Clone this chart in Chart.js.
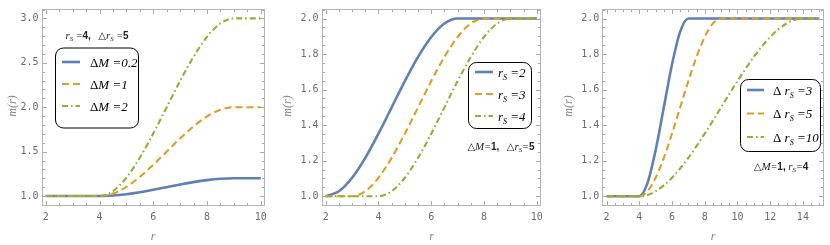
<!DOCTYPE html>
<html>
<head>
<meta charset="utf-8">
<script src="https://cdn.jsdelivr.net/npm/chart.js@4.4.1/dist/chart.umd.min.js"></script>
<style>
  body { margin: 0; background: #fff; width: 830px; height: 245px; overflow: hidden; position: relative; }
  canvas { position: absolute; top: 0; }
</style>
</head>
<body>
<canvas id="c1" width="272" height="245" style="left:0px"></canvas>
<canvas id="c2" width="272" height="245" style="left:277px"></canvas>
<canvas id="c3" width="275" height="245" style="left:555px"></canvas>
<script>
// ---- values ----
const rAB = [2, 2.5, 3, 3.5, 4, 4.5, 5, 5.5, 6, 6.5, 7, 7.5, 8, 8.5, 9, 9.5, 10];
const rC  = [2, 2.5, 3, 3.5, 4, 4.5, 5, 5.5, 6, 6.5, 7, 7.5, 8, 8.5, 9, 9.5, 10,
             10.5, 11, 11.5, 12, 12.5, 13, 13.5, 14, 14.5, 15];

// panel 1 : r_s = 4, Δr_s = 5
const mDM02 = [1, 1, 1, 1, 1, 1.006, 1.021, 1.043, 1.070, 1.100, 1.130, 1.157, 1.179, 1.194, 1.2, 1.2, 1.2];
const mDM1  = [1, 1, 1, 1, 1, 1.028, 1.104, 1.216, 1.352, 1.500, 1.648, 1.784, 1.896, 1.972, 2, 2, 2];
const mDM2  = [1, 1, 1, 1, 1, 1.056, 1.208, 1.432, 1.704, 2.000, 2.296, 2.568, 2.792, 2.944, 3, 3, 3];

// panel 2 : ΔM = 1, Δr_s = 5
const mRs2 = [1, 1.028, 1.104, 1.216, 1.352, 1.5, 1.648, 1.784, 1.896, 1.972, 2, 2, 2, 2, 2, 2, 2];
const mRs3 = [1, 1, 1, 1.028, 1.104, 1.216, 1.352, 1.5, 1.648, 1.784, 1.896, 1.972, 2, 2, 2, 2, 2];
const mRs4 = [1, 1, 1, 1, 1, 1.028, 1.104, 1.216, 1.352, 1.5, 1.648, 1.784, 1.896, 1.972, 2, 2, 2];

// panel 3 : ΔM = 1, r_s = 4
const mDrs3  = [1, 1, 1, 1, 1, 1.074, 1.259, 1.5, 1.741, 1.926, 2, 2, 2, 2, 2, 2, 2,
                2, 2, 2, 2, 2, 2, 2, 2, 2, 2];
const mDrs5  = [1, 1, 1, 1, 1, 1.028, 1.104, 1.216, 1.352, 1.5, 1.648, 1.784, 1.896, 1.972, 2, 2, 2,
                2, 2, 2, 2, 2, 2, 2, 2, 2, 2];
const mDrs10 = [1, 1, 1, 1, 1, 1.007, 1.028, 1.061, 1.104, 1.156, 1.216, 1.282, 1.352, 1.425, 1.5, 1.575, 1.648,
                1.718, 1.784, 1.844, 1.896, 1.939, 1.972, 1.993, 2, 2, 2];

const xTicksAB = [2, 4, 6, 8, 10];
const xTicksC  = [2, 4, 6, 8, 10, 12, 14];
const yTicksA  = [1.0, 1.5, 2.0, 2.5, 3.0];
const yTicksBC = [1.0, 1.2, 1.4, 1.6, 1.8, 2.0];

const dMLabels  = ['0.2', '1', '2'];
const rsLabels  = ['2', '3', '4'];
const drsLabels = ['3', '5', '10'];

// ---- styles ----
const BLUE = '#5e81b5', ORANGE = '#e19c24', GREEN = '#8fb032';
const SERIF = '"Liberation Serif", "DejaVu Serif", serif';
const MONO  = '"DejaVu Sans Mono", monospace';
const STYLES = [
  { borderColor: BLUE,   borderWidth: 2.6, borderDash: [],              order: 2 },
  { borderColor: ORANGE, borderWidth: 2.1, borderDash: [7, 4],          order: 1 },
  { borderColor: GREEN,  borderWidth: 2.1, borderDash: [6, 3, 1.6, 3],  order: 0 },
];

const it  = (t, s = 13) => ({ t, f: `italic ${s}px ${SERIF}` });
const up  = (t, s = 13) => ({ t, f: `${s}px ${SERIF}` });
const sub = (t, s = 8, dy = 3) => ({ t, f: `italic ${s}px ${SERIF}`, dy });
const bd  = (t) => ({ t, f: `bold 10px "Liberation Sans", sans-serif` });
const tri = () => ({ t: '\u25B3', f: `10px "DejaVu Sans", sans-serif` });

const drawRich = (ctx, x, y, segs, align) => {
  let w = 0;
  segs.forEach(s => { ctx.font = s.f; w += ctx.measureText(s.t).width; });
  let cx = align === 'center' ? x - w / 2 : x;
  segs.forEach(s => {
    ctx.font = s.f;
    ctx.fillText(s.t, cx, y + (s.dy || 0));
    cx += ctx.measureText(s.t).width;
  });
};

// frame, ticks, legend box, notes and axis titles
const deco = {
  id: 'deco',
  afterDraw(chart, args, o) {
    const { ctx, chartArea: a, scales: { x, y } } = chart;
    ctx.save();
    const L = Math.round(a.left) + 0.5, R = Math.round(a.right) - 0.5;
    const T = Math.round(a.top) + 0.5, B = Math.round(a.bottom) - 0.5;

    // ticks on all four sides
    ctx.strokeStyle = '#a8a8a8';
    ctx.lineWidth = 1;
    const xt = (v, len) => {
      const p = Math.round(x.getPixelForValue(v)) + 0.5;
      ctx.beginPath(); ctx.moveTo(p, B); ctx.lineTo(p, B - len);
      ctx.moveTo(p, T); ctx.lineTo(p, T + len); ctx.stroke();
    };
    const yt = (v, len) => {
      const p = Math.round(y.getPixelForValue(v)) + 0.5;
      ctx.beginPath(); ctx.moveTo(L, p); ctx.lineTo(L + len, p);
      ctx.moveTo(R, p); ctx.lineTo(R - len, p); ctx.stroke();
    };
    for (let v = o.xMinor[0]; v <= o.xMinor[1] + 1e-9; v += o.xMinor[2]) xt(v, 2.5);
    for (let v = o.yMinor[0]; v <= o.yMinor[1] + 1e-9; v += o.yMinor[2]) yt(v, 2.5);
    o.xMajor.forEach(v => xt(v, 4.5));
    o.yMajor.forEach(v => yt(v, 4.5));

    ctx.strokeStyle = '#b4b4b4';
    ctx.strokeRect(L, T, R - L, B - T);

    // legend box
    const g = o.legend;
    ctx.fillStyle = '#fff';
    ctx.strokeStyle = '#000';
    ctx.lineWidth = 1;
    ctx.beginPath();
    ctx.roundRect(g.x + 0.5, g.y + 0.5, g.w, g.h, 8);
    ctx.fill(); ctx.stroke();
    g.rows.forEach((segs, i) => {
      const ds = chart.data.datasets[i];
      const ry = g.rowY[i];
      ctx.save();
      ctx.strokeStyle = ds.borderColor;
      ctx.lineWidth = ds.borderWidth;
      ctx.setLineDash(ds.borderDash);
      ctx.beginPath(); ctx.moveTo(g.sx[0], ry); ctx.lineTo(g.sx[1], ry); ctx.stroke();
      ctx.restore();
      ctx.fillStyle = '#000';
      ctx.textBaseline = 'alphabetic';
      drawRich(ctx, g.tx, ry + 4.5, segs, 'left');
    });

    // parameter note
    ctx.fillStyle = '#222';
    drawRich(ctx, o.note.x, o.note.y, o.note.segs, 'center');

    // axis titles
    ctx.fillStyle = '#808080';
    ctx.textAlign = 'left';
    drawRich(ctx, o.xTitle.x, o.xTitle.y, [it('r', 12)], 'center');
    ctx.translate(o.yTitle.x, o.yTitle.y);
    ctx.rotate(-Math.PI / 2);
    drawRich(ctx, 0, 0, [it('m(r)', 12)], 'center');
    ctx.restore();
  }
};

const makePanel = (id, p) => {
  const datasets = p.series.map((vals, i) => ({
    data: p.r.map((r, j) => ({ x: r, y: vals[j] })),
    ...STYLES[i],
    borderCapStyle: 'butt',
    pointRadius: 0,
    fill: false,
    cubicInterpolationMode: 'monotone',
  }));
  return new Chart(document.getElementById(id), {
    type: 'line',
    data: { datasets },
    plugins: [deco],
    options: {
      responsive: false,
      animation: false,
      devicePixelRatio: 1,
      layout: { padding: { top: 5, right: p.padRight, left: 0, bottom: 0 } },
      plugins: {
        legend: { display: false },
        tooltip: { enabled: false },
        deco: p.deco,
      },
      scales: {
        x: {
          type: 'linear', min: p.xMin, max: p.xMax,
          afterBuildTicks: s => { s.ticks = p.xTicks.map(v => ({ value: v })); },
          afterFit: s => { s.height = 39; },
          grid: { display: false, drawTicks: false },
          border: { display: false },
          ticks: { padding: 5, color: '#6a6a6a', font: { family: MONO, size: 10 },
                   maxRotation: 0, autoSkip: false, callback: v => String(v) },
        },
        y: {
          type: 'linear', min: p.yMin, max: p.yMax,
          afterBuildTicks: s => { s.ticks = p.yTicks.map(v => ({ value: v })); },
          afterFit: s => { s.width = p.yWidth; },
          grid: { display: false, drawTicks: false },
          border: { display: false },
          ticks: { padding: 3, color: '#6a6a6a', font: { family: MONO, size: 10 },
                   autoSkip: false, callback: v => v.toFixed(1) },
        },
      },
    },
  });
};

makePanel('c1', {
  r: rAB, series: [mDM02, mDM1, mDM2],
  xMin: 1.84, xMax: 10.16, yMin: 0.888, yMax: 3.106,
  xTicks: xTicksAB, yTicks: yTicksA, yWidth: 41.5, padRight: 7,
  deco: {
    xMajor: xTicksAB, yMajor: yTicksA, xMinor: [2, 10, 0.5], yMinor: [0.9, 3.1, 0.1],
    legend: { x: 55, y: 47.5, w: 83, h: 80, rowY: [62, 84, 106], sx: [62, 80], tx: 90,
              rows: dMLabels.map(v => [up('\u0394'), it('M'), it(' =' + v)]) },
    note: { x: 97, y: 39, segs: [it('r', 11), sub('S', 7, 2), it(' =', 10), bd('4,'), up('   ', 10),
                                 tri(), it('r', 11), sub('S', 7, 2), it(' =', 10), bd('5')] },
    xTitle: { x: 153, y: 240 }, yTitle: { x: 16, y: 106 },
  },
});

makePanel('c2', {
  r: rAB, series: [mRs2, mRs3, mRs4],
  xMin: 1.84, xMax: 10.16, yMin: 0.945, yMax: 2.0535,
  xTicks: xTicksAB, yTicks: yTicksBC, yWidth: 44.5, padRight: 8,
  deco: {
    xMajor: xTicksAB, yMajor: yTicksBC, xMinor: [2, 10, 0.5], yMinor: [0.95, 2.05, 0.05],
    legend: { x: 191, y: 62, w: 63, h: 66, rowY: [72, 94, 116], sx: [198, 216], tx: 221,
              rows: rsLabels.map(v => [it('r'), sub('S'), it(' =' + v)]) },
    note: { x: 224, y: 150, segs: [tri(), it('M', 11), it('=', 10), bd('1,'), up('   ', 10),
                                   tri(), it('r', 11), sub('S', 7, 2), it('=', 10), bd('5')] },
    xTitle: { x: 154.5, y: 240 }, yTitle: { x: 14, y: 106 },
  },
});

makePanel('c3', {
  r: rC, series: [mDrs3, mDrs5, mDrs10],
  xMin: 1.74, xMax: 15.26, yMin: 0.945, yMax: 2.0535,
  xTicks: xTicksC, yTicks: yTicksBC, yWidth: 47.3, padRight: 6.5,
  deco: {
    xMajor: xTicksC, yMajor: yTicksBC, xMinor: [2, 15, 0.5], yMinor: [0.95, 2.05, 0.05],
    legend: { x: 185, y: 79, w: 80, h: 72, rowY: [90, 113.5, 137], sx: [192, 209], tx: 218,
              rows: drsLabels.map(v => [up('\u0394 '), it('r'), sub('S'), it(' =' + v)]) },
    note: { x: 226, y: 170, segs: [tri(), it('M', 11), it('=', 10), bd('1,'), up(' ', 10),
                                   it('r', 11), sub('S', 7, 2), it('=', 10), bd('4')] },
    xTitle: { x: 158, y: 240 }, yTitle: { x: 17, y: 106 },
  },
});
</script>
</body>
</html>
